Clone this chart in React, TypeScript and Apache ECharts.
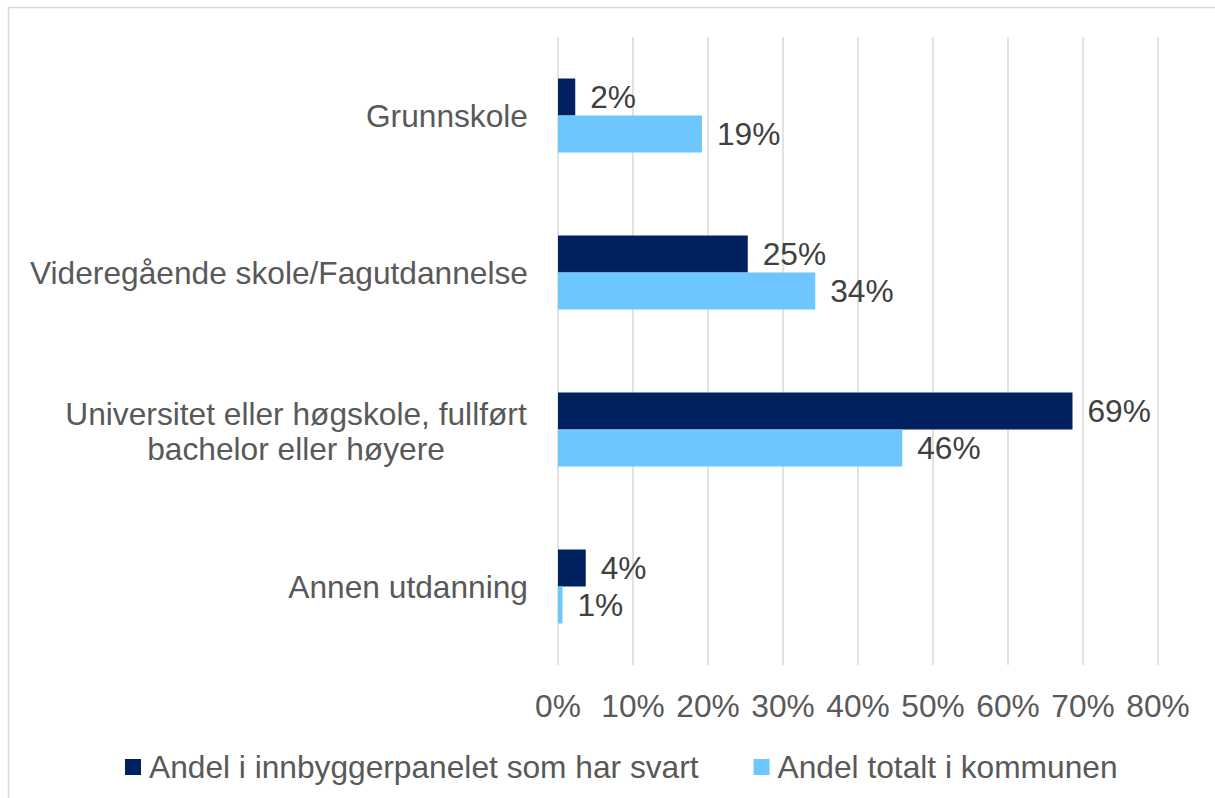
import React, { useEffect, useRef } from "react";
import * as echarts from "echarts";

const categories = [
  "Grunnskole",
  "Videregående skole/Fagutdannelse",
  "Universitet eller høgskole, fullført\nbachelor eller høyere",
  "Annen utdanning",
];
const seriesNames = ["Andel i innbyggerpanelet som har svart", "Andel totalt i kommunen"];
const panelValues = [2.3, 25.3, 68.6, 3.7];
const totalValues = [19.2, 34.3, 45.9, 0.6];
const xTicks = { min: 0, max: 80, interval: 10 };

const FONT = "'Liberation Sans', Arial, sans-serif";
const FS = 31.7;

export default function App() {
  const ref = useRef<HTMLDivElement>(null);
  useEffect(() => {
    document.body.style.margin = "0";
    const chart = echarts.init(ref.current!, undefined, { renderer: "svg" });
    const labelFmt = (p: any) => Math.round(p.value) + "%";
    chart.setOption({
      animation: false,
      backgroundColor: "#ffffff",
      textStyle: { fontFamily: FONT },
      graphic: [
        {
          type: "rect",
          shape: { x: 8.5, y: 7.5, width: 1400, height: 1000 },
          style: { fill: "none", stroke: "#d9d9d9", lineWidth: 1.5 },
          silent: true,
        },
      ],
      grid: { left: 558, right: 57, top: 37, bottom: 133, containLabel: false },
      legend: {
        data: seriesNames,
        left: 120,
        top: 746,
        itemWidth: 16,
        itemHeight: 16,
        itemGap: 55,
        icon: "rect",
        textStyle: { fontFamily: FONT, fontSize: FS, color: "#595959", padding: [0, 0, 0, 3] },
      },
      xAxis: {
        type: "value",
        min: xTicks.min,
        max: xTicks.max,
        interval: xTicks.interval,
        axisLine: { show: false },
        axisTick: { show: false },
        axisLabel: {
          formatter: "{value}%",
          fontFamily: FONT,
          fontSize: FS,
          color: "#595959",
          margin: 25,
        },
        splitLine: { show: true, lineStyle: { color: "#d9d9d9", width: 1.5 } },
      },
      yAxis: {
        type: "category",
        inverse: true,
        data: categories,
        axisLine: { show: false },
        axisTick: { show: false },
        axisLabel: {
          margin: 30,
          fontFamily: FONT,
          fontSize: FS,
          color: "#595959",
          lineHeight: 35,
          formatter: (v: string) => {
            if (v.indexOf("\n") >= 0) {
              return v
                .split("\n")
                .map((s) => "{c|" + s + "}")
                .join("\n");
            }
            return v;
          },
          rich: {
            c: {
              width: 464,
              align: "center",
              fontFamily: FONT,
              fontSize: FS,
              color: "#595959",
              lineHeight: 35,
              padding: [3, 0, 0, 0],
            },
          },
        },
      },
      series: [
        {
          name: seriesNames[0],
          type: "bar",
          data: panelValues,
          barWidth: 37,
          barGap: "0%",
          itemStyle: { color: "#002060" },
          label: {
            show: true,
            position: "right",
            distance: 15,
            formatter: labelFmt,
            fontFamily: FONT,
            fontSize: FS,
            color: "#404040",
          },
        },
        {
          name: seriesNames[1],
          type: "bar",
          data: totalValues,
          barWidth: 37,
          barGap: "0%",
          itemStyle: { color: "#6EC6FF" },
          label: {
            show: true,
            position: "right",
            distance: 15,
            formatter: labelFmt,
            fontFamily: FONT,
            fontSize: FS,
            color: "#404040",
          },
        },
      ],
    });
    return () => chart.dispose();
  }, []);
  return <div ref={ref} style={{ width: 1215, height: 798 }} />;
}
